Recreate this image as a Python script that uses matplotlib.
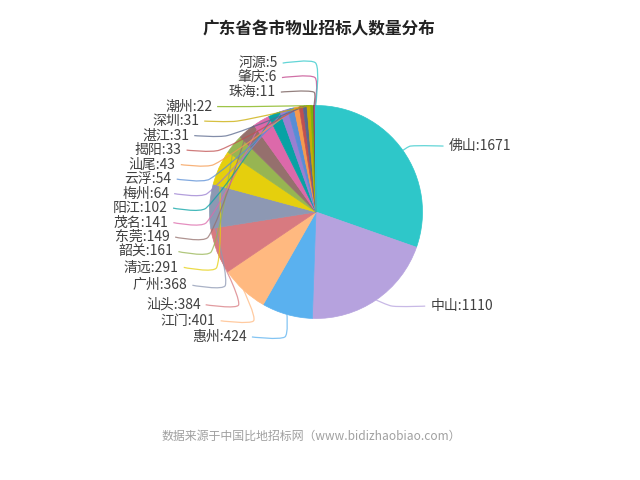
import math
import numpy as np
import matplotlib
matplotlib.use("Agg")
import matplotlib.pyplot as plt
from matplotlib.path import Path
from matplotlib.patches import PathPatch

plt.rcParams['font.family'] = ['Noto Sans CJK SC', 'DejaVu Sans']

# ---- data ----
cities = ['佛山', '中山', '惠州', '江门', '汕头', '广州', '清远', '韶关', '东莞', '茂名',
          '阳江', '梅州', '云浮', '汕尾', '揭阳', '湛江', '深圳', '潮州', '珠海', '肇庆', '河源']
counts = [1671, 1110, 424, 401, 384, 368, 291, 161, 149, 141,
          102, 64, 54, 43, 33, 31, 31, 22, 11, 6, 5]
palette = ['#2ec7c9', '#b6a2de', '#5ab1ef', '#ffb980', '#d87a80', '#8d98b3', '#e5cf0d',
           '#97b552', '#95706d', '#dc69aa', '#07a2a4', '#9a7fd1', '#588dd5', '#f5994e',
           '#c05050', '#59678c', '#c9ab00', '#7eb00a', '#6f5553', '#c14089']
title = '广东省各市物业招标人数量分布'
source = '数据来源于中国比地招标网（www.bidizhaobiao.com）'

W, Hh = 640, 480
CX, CY = 316, 212          # pixel coords (y down)
R = 106.5
R1 = 114                   # radius of label-line elbow
LEN2 = 33
GAP = 5
RT = 148
LH = 14.5                  # label height

colors = [palette[i % len(palette)] for i in range(len(counts))]

fig = plt.figure(figsize=(6.4, 4.8), dpi=100)
ax = fig.add_axes([0, 0, 1, 1])

def Y(y):
    return Hh - y

wedges, _ = ax.pie(counts, colors=colors, startangle=90, counterclock=False,
                   radius=R, center=(CX, Y(CY)), frame=False)
for w in wedges:
    w.set_edgecolor(w.get_facecolor())
    w.set_linewidth(0.5)

# ---- label layout (echarts-like) ----
total = float(sum(counts))
cum = np.concatenate([[0], np.cumsum(counts)])
items = []
for i in range(len(counts)):
    a = math.radians((cum[i] + cum[i + 1]) / 2 / total * 360)
    s, c = math.sin(a), math.cos(a)
    d = 1 if s >= 0 else -1
    items.append(dict(i=i, dir=d,
                      edge=(CX + R * s, CY - R * c),
                      y=CY - R1 * c,
                      x=CX + R1 * s + d * (LEN2 + GAP)))

def adjust(lst):
    lst.sort(key=lambda t: t['y'])
    n = len(lst)

    def shift_up(end, delta):
        for j in range(end, -1, -1):
            if lst[j]['y'] - delta < 0:
                break
            lst[j]['y'] -= delta
            if j > 0 and lst[j]['y'] > lst[j - 1]['y'] + LH:
                break

    def shift_down(start, end, delta):
        for j in range(start, end):
            lst[j]['y'] += delta
            if j > start and j + 1 < end and lst[j + 1]['y'] > lst[j]['y'] + LH:
                shift_up(j, delta / 2)
                return
        shift_up(end - 1, delta / 2)

    lastY = 0
    for i in range(n):
        delta = lst[i]['y'] - lastY
        if delta < 0:
            shift_down(i, n, -delta)
        lastY = lst[i]['y'] + LH

    up = [t for t in lst if t['y'] < CY]
    down = [t for t in lst if t['y'] >= CY]
    for sub, is_down in ((up, False), (down, True)):
        last = 1e9 if is_down else 0
        for t in sub:
            dy = abs(t['y'] - CY)
            if dy < R1:
                dx = math.sqrt(RT * RT - dy * dy)
            else:
                dx = abs(t['x'] - CX)
            if is_down and dx >= last:
                dx = last - 10
            if (not is_down) and dx <= last:
                dx = last + 10
            t['x'] = CX + dx * t['dir']
            last = dx

left = [t for t in items if t['dir'] < 0]
right = [t for t in items if t['dir'] > 0]
adjust(left)
adjust(right)

SMOOTH = 0.25
for t in items:
    d = t['dir']
    end = np.array([t['x'] - d * GAP, t['y']])
    elbow = np.array([end[0] - d * LEN2, t['y']])
    p0 = np.array(t['edge'])
    v = (end - p0) * SMOOTH
    d0 = np.hypot(*(elbow - p0)); d1 = np.hypot(*(end - elbow))
    ssum = d0 + d1
    cp0 = elbow - v * (d0 / ssum)
    cp1 = elbow + v * (d1 / ssum)
    pts = [p0, p0, cp0, elbow, cp1, end, end]
    verts = [(p[0], Y(p[1])) for p in pts]
    codes = [Path.MOVETO] + [Path.CURVE4] * 6
    ax.add_patch(PathPatch(Path(verts, codes), fill=False,
                           edgecolor=colors[t['i']], lw=0.9, alpha=0.75))
    ax.text(t['x'], Y(t['y']), f"{cities[t['i']]}:{counts[t['i']]}",
            ha='left' if d > 0 else 'right', va='center',
            fontsize=10, color='#404040')

ax.set_xlim(0, W)
ax.set_ylim(0, Hh)
ax.set_aspect('equal')
ax.axis('off')

fig.text(319 / W, 1 - 29 / Hh, title, ha='center', va='center',
         fontsize=12, fontweight='bold', color='#222222')
fig.text(311 / W, 1 - 436 / Hh, source, ha='center', va='center',
         fontsize=8.6, color='#a0a0a0')

fig.savefig('out.png', dpi=100, facecolor='white')
